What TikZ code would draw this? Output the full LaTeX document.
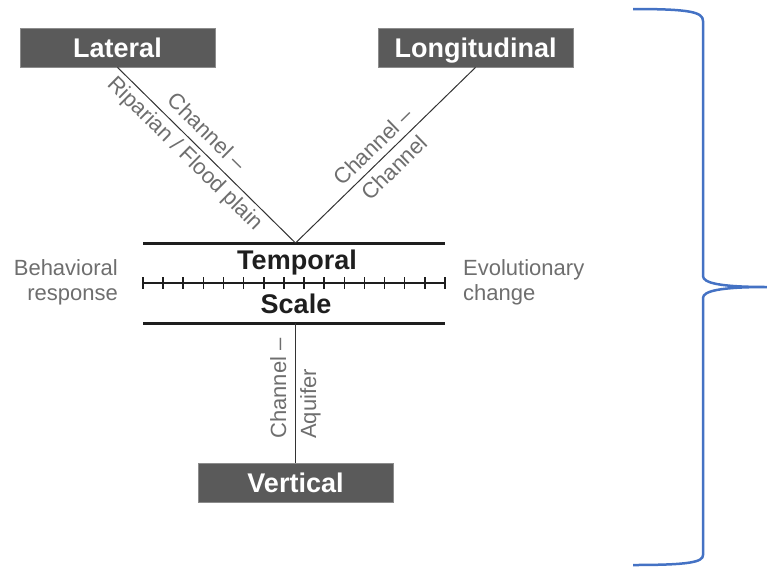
\documentclass[tikz,border=0pt]{standalone}
\usepackage{fontspec}
\setmainfont{Liberation Sans}
\usetikzlibrary{positioning}
\definecolor{boxgray}{HTML}{5A5A5A}
\definecolor{boxedge}{HTML}{8C8C8C}
\definecolor{labelgray}{HTML}{6E6E6E}
\definecolor{barblack}{HTML}{1E1E1E}
\definecolor{braceblue}{HTML}{4472C4}

\begin{document}
\begin{tikzpicture}[x=1pt, y=-1pt,
      dimbox/.style={draw=boxedge, line width=0.8pt, fill=boxgray,
        text=white, minimum width=195pt, minimum height=39pt,
        text height=20pt, text depth=0pt,
        inner sep=0pt, font=\fontsize{27}{32}\selectfont\bfseries},
      link/.style={draw=black!80, line width=1pt},
      linklabel/.style={text=labelgray, align=center, inner sep=0pt,
        font=\fontsize{22}{30}\selectfont},
      sidelabel/.style={text=labelgray, inner sep=0pt,
        font=\fontsize{22}{25}\selectfont},
      scaleline/.style={draw=barblack, line width=3pt},
      tickline/.style={draw=barblack, line width=1.6pt},
      scaletitle/.style={text=barblack, inner sep=0pt,
        font=\fontsize{27}{32}\selectfont\bfseries}
    ]
      \useasboundingbox (0,0) rectangle (767,568);

      % the three dimensions
      \node[dimbox] (lateral) at (117.5,47.5) {Lateral};
      \node[dimbox] (longit) at (475.5,47.5) {Longitudinal};
      \node[dimbox] (vertical) at (295.5,482.5) {Vertical};
      \coordinate (apex) at (295.5,243);
      \coordinate (foot) at (295.5,323);

      % temporal scale bar
      \draw[scaleline] (143,243) -- (445,243);
      \draw[scaleline] (143,323) -- (445,323);
      \draw[tickline] (143,283) -- (445,283);
      \foreach \k in {0,...,15}
        \draw[tickline] (143+20.13*\k,277) -- (143+20.13*\k,289);
      \node[scaletitle, anchor=base] (temporal) at (297,269.5) {Temporal};
      \node[scaletitle, anchor=base] (scale) at (296,313) {Scale};
      \node[sidelabel, align=right, anchor=east] (behav) at (118,282)
        {Behavioral\\response};
      \node[sidelabel, align=left, anchor=west] (evol) at (463,282)
        {Evolutionary\\change};

      % connections
      \draw[link] (lateral.south) -- (apex)
        node[linklabel, sloped, pos=0.435] {Channel --\\Riparian / Flood plain};
      \draw[link] (longit.south) -- (apex)
        node[linklabel, sloped, pos=0.51] {Channel --\\Channel};
      \draw[link] (vertical.north) -- (foot)
        node[linklabel, align=left, rotate=90, pos=0.53] {Channel --\\Aquifer};

      % brace
      \draw[braceblue, line width=2.5pt]
        (633,9) .. controls (690,9) and (703,12) .. (703,21)
        -- (703,276) .. controls (703,283) and (720,287) .. (767,287)
        .. controls (720,287) and (703,291) .. (703,298)
        -- (703,555) .. controls (703,562) and (690,565) .. (633,565);
    \end{tikzpicture}
\end{document}
